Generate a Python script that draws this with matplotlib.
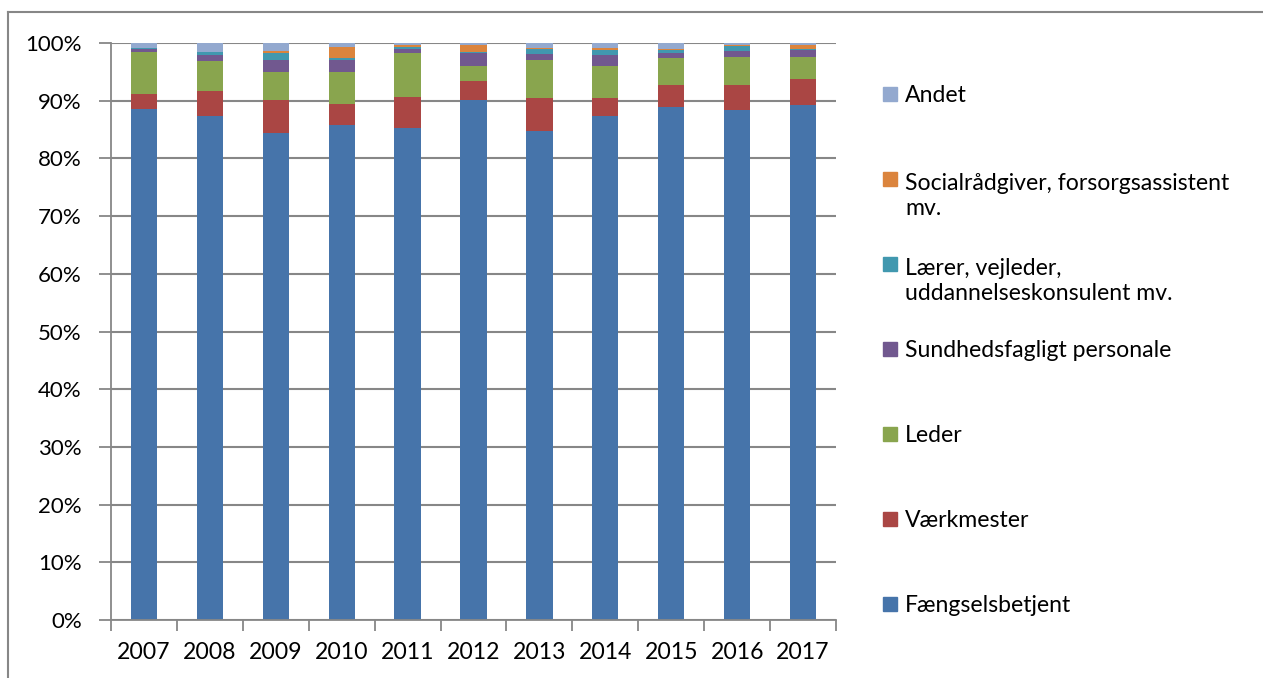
import numpy as np
import matplotlib
matplotlib.use('Agg')
import matplotlib.pyplot as plt
from matplotlib.patches import Rectangle
from matplotlib.lines import Line2D
from matplotlib.ticker import FuncFormatter, MultipleLocator

plt.rcParams['font.family'] = ['Lato', 'DejaVu Sans']

years = ['2007', '2008', '2009', '2010', '2011', '2012',
         '2013', '2014', '2015', '2016', '2017']

# shares in percent, bottom to top of each bar
faengselsbetjent = [88.6, 87.4, 84.4, 85.8, 85.3, 90.1, 84.8, 87.3, 88.9, 88.35, 89.3]
vaerkmester      = [2.6, 4.2, 5.7, 3.7, 5.4, 3.4, 5.7, 3.2, 3.8, 4.4, 4.4]
leder            = [7.2, 5.3, 4.85, 5.5, 7.5, 2.6, 6.5, 5.6, 4.7, 4.8, 3.8]
sundhed          = [0.5, 1.0, 2.1, 2.0, 0.8, 2.1, 1.15, 1.8, 0.9, 1.15, 1.3]
laerer           = [0.2, 0.6, 1.27, 0.45, 0.3, 0.3, 0.75, 0.9, 0.45, 0.7, 0.2]
socialraadgiver  = [0.0, 0.0, 0.3, 1.85, 0.35, 1.1, 0.3, 0.25, 0.25, 0.2, 0.6]
andet            = [0.9, 1.55, 1.45, 0.7, 0.4, 0.4, 0.87, 1.0, 1.0, 0.45, 0.45]

series = [faengselsbetjent, vaerkmester, leder, sundhed, laerer,
          socialraadgiver, andet]
labels = ['Fængselsbetjent', 'Værkmester', 'Leder',
          'Sundhedsfagligt personale',
          'Lærer, vejleder,\nuddannelseskonsulent mv.',
          'Socialrådgiver, forsorgsassistent\nmv.', 'Andet']
cols = ['#4674AA', '#AA4644', '#89A54E', '#71588F',
        '#4198AF', '#DB843D', '#93A9CF']

W, H = 1263, 678
fig = plt.figure(figsize=(W/100, H/100), dpi=100)
ax = fig.add_axes([111/W, 1-620/H, (836-111)/W, (620-43)/H])

x = np.arange(len(years))
bottom = np.zeros(len(years))
for vals, c in zip(series, cols):
    ax.bar(x, vals, 0.4, bottom=bottom, color=c, edgecolor='none', zorder=2)
    bottom += np.array(vals)

gcol = '#878787'
ax.set_xlim(-0.5, len(years)-0.5)
ax.set_ylim(0, 100)
ax.yaxis.set_major_locator(MultipleLocator(10))
ax.yaxis.set_major_formatter(FuncFormatter(lambda v, p: '%d%%' % v))
ax.grid(axis='y', color=gcol, lw=1.5, zorder=0)
ax.set_axisbelow(True)

ax.set_xticks(x)
ax.set_xticklabels(years)
ax.set_xticks(np.arange(-0.5, len(years)), minor=True)
ax.tick_params(axis='x', which='major', length=0, pad=16, labelsize=16.6)
ax.tick_params(axis='x', which='minor', length=8, width=1.3, color=gcol)
ax.tick_params(axis='y', length=9, width=1.3, color=gcol, pad=12, labelsize=16)

for s in ['top', 'right']:
    ax.spines[s].set_visible(False)
for s in ['left', 'bottom']:
    ax.spines[s].set_color(gcol)
    ax.spines[s].set_linewidth(1.3)

# legend, drawn by hand to space entries like the original
for i in range(len(series)):
    k = len(series) - 1 - i
    yc = 94 + 85*i
    nl = labels[k].count('\n')
    fig.add_artist(Rectangle((883/W, 1-(yc+7)/H), 14/W, 14/H,
                             color=cols[k], transform=fig.transFigure))
    fig.text(905/W, 1-(yc+8+28*nl)/H, labels[k], fontsize=16.6,
             va='baseline', ha='left', linespacing=1.22)

# chart frame
fig.add_artist(Line2D([8/W, 8/W], [0, 1-12/H], color=gcol, lw=1.5,
                      transform=fig.transFigure))
fig.add_artist(Line2D([8/W, 1], [1-12/H, 1-12/H], color=gcol, lw=1.5,
                      transform=fig.transFigure))

fig.savefig('out.png', dpi=100)
